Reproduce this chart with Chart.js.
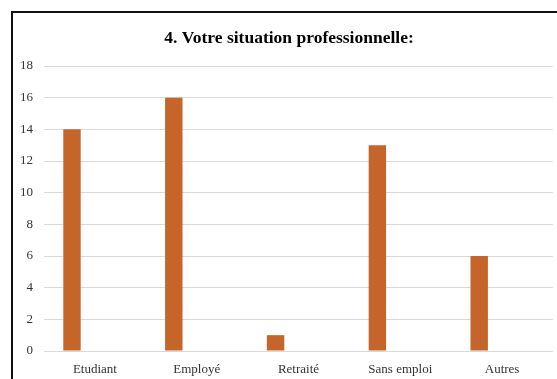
<!DOCTYPE html>
<html>
<head>
<meta charset="utf-8">
<script src="https://cdn.jsdelivr.net/npm/chart.js@4"></script>
<style>
  html, body { margin: 0; padding: 0; background: #fff; overflow: hidden; }
  #frame {
    position: absolute; left: 11px; top: 11px;
    width: 554px; height: 368px;
    border-left: 2px solid #111; border-top: 2px solid #111;
  }
  #frame canvas { display: block; }
</style>
</head>
<body>
<div id="frame"><canvas id="chart" width="552" height="368"></canvas></div>
<script>
// categories and values
const categories = ['Etudiant', 'Employé', 'Retraité', 'Sans emploi', 'Autres'];
const situation = [14, 16, 1, 13, 6];
// the source chart has an empty second series, which pushes the bars left
const emptySerie = [null, null, null, null, null];
const yTicks = [0, 2, 4, 6, 8, 10, 12, 14, 16, 18];

const serif = "'Liberation Serif', 'Times New Roman', serif";

const ctx = document.querySelector('#chart').getContext('2d');
new Chart(ctx, {
  type: 'bar',
  data: {
    labels: categories,
    datasets: [
      { label: 'Situation', data: situation, backgroundColor: '#c5652a' },
      { label: '', data: emptySerie, backgroundColor: '#a5a5a5' }
    ]
  },
  options: {
    responsive: false,
    animation: false,
    categoryPercentage: 0.9,
    barPercentage: 0.38,
    layout: { padding: 0 },
    plugins: {
      legend: { display: false },
      tooltip: { enabled: false },
      title: {
        display: true,
        text: '4. Votre situation professionnelle:',
        color: '#000',
        font: { family: serif, size: 17.5, weight: 'bold' },
        padding: { top: 15, bottom: 17 }
      }
    },
    scales: {
      x: {
        afterFit: (scale) => { scale.height = 30; },
        grid: { display: false, drawTicks: false },
        border: { display: false },
        ticks: { color: '#333', font: { family: serif, size: 13 }, padding: 11 }
      },
      y: {
        min: 0,
        max: 18,
        afterBuildTicks: (scale) => { scale.ticks = yTicks.map(v => ({ value: v })); },
        afterFit: (scale) => { scale.width = 31; },
        grid: { color: '#d9d9d9', lineWidth: 1, drawTicks: false },
        border: { display: false },
        ticks: { color: '#333', font: { family: serif, size: 13 }, padding: 11 }
      },
      // empty strip on the right so the plot stops short of the frame
      yRight: {
        position: 'right',
        afterFit: (scale) => { scale.width = 12; },
        grid: { display: false, drawTicks: false },
        border: { display: false },
        ticks: { display: false }
      }
    }
  }
});
</script>
</body>
</html>
